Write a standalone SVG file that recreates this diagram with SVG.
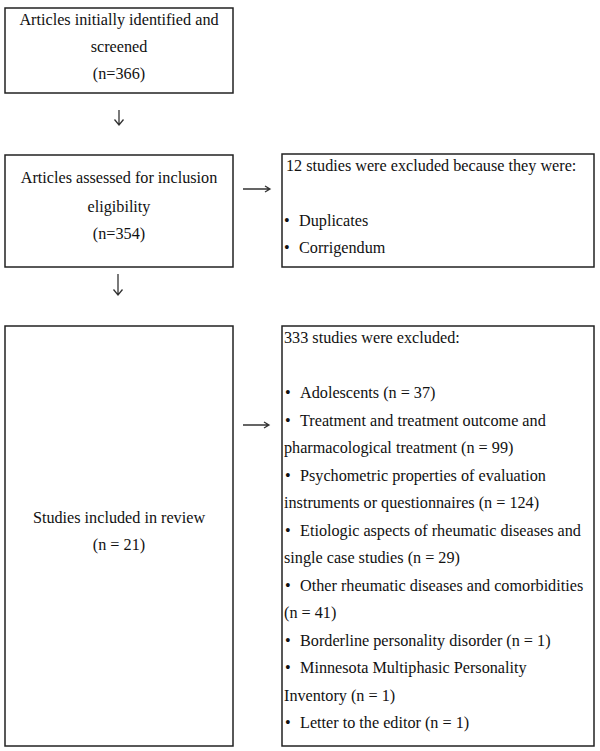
<svg xmlns="http://www.w3.org/2000/svg" width="600" height="751" viewBox="0 0 600 751">
<style>
.box{fill:#fff;stroke:#222;stroke-width:1.5}
.t{font-family:"Liberation Serif","Times New Roman",serif;font-size:16.2px;fill:#111}
.c{text-anchor:middle}
.conn{fill:none;stroke:#333;stroke-width:1.3}
</style>
<rect width="600" height="751" fill="#fff"/>
<g id="n1">
<rect class="box" x="5" y="8" width="228" height="85"/>
<text class="t c" x="119" y="25">Articles initially identified and</text>
<text class="t c" x="119" y="52">screened</text>
<text class="t c" x="119" y="79">(n=366)</text>
</g>
<g id="n2">
<rect class="box" x="5" y="155" width="228" height="112"/>
<text class="t c" x="119" y="183">Articles assessed for inclusion</text>
<text class="t c" x="119" y="212">eligibility</text>
<text class="t c" x="119" y="239">(n=354)</text>
</g>
<g id="n3">
<rect class="box" x="282" y="154" width="312" height="113"/>
<text class="t" x="286" y="171">12 studies were excluded because they were:</text>
<text class="t" x="284" y="226">•<tspan x="299">Duplicates</tspan></text>
<text class="t" x="284" y="253">•<tspan x="299">Corrigendum</tspan></text>
</g>
<g id="n4">
<rect class="box" x="5" y="326" width="228" height="420"/>
<text class="t c" x="119" y="523">Studies included in review</text>
<text class="t c" x="119" y="550">(n = 21)</text>
</g>
<g id="n5">
<rect class="box" x="282" y="326" width="312" height="420"/>
<text class="t" x="284" y="343">333 studies were excluded:</text>
<text class="t" x="285" y="398">•<tspan x="300">Adolescents (n = 37)</tspan></text>
<text class="t" x="285" y="425.5">•<tspan x="300">Treatment and treatment outcome and</tspan></text>
<text class="t" x="284" y="453">pharmacological treatment (n = 99)</text>
<text class="t" x="285" y="480.5">•<tspan x="300">Psychometric properties of evaluation</tspan></text>
<text class="t" x="284" y="508">instruments or questionnaires (n = 124)</text>
<text class="t" x="285" y="535.5">•<tspan x="300">Etiologic aspects of rheumatic diseases and</tspan></text>
<text class="t" x="284" y="563">single case studies (n = 29)</text>
<text class="t" x="285" y="590.5">•<tspan x="300">Other rheumatic diseases and comorbidities</tspan></text>
<text class="t" x="284" y="618">(n = 41)</text>
<text class="t" x="285" y="645.5">•<tspan x="300">Borderline personality disorder (n = 1)</tspan></text>
<text class="t" x="285" y="673">•<tspan x="300">Minnesota Multiphasic Personality</tspan></text>
<text class="t" x="284" y="700.5">Inventory (n = 1)</text>
<text class="t" x="285" y="728">•<tspan x="300">Letter to the editor (n = 1)</tspan></text>
</g>
<g id="connectors">
<path class="conn" d="M119 110 V125 M114.5 119.5 L119 125 L123.5 119.5"/>
<path class="conn" d="M118 274 V295 M113.5 289.5 L118 295 L122.5 289.5"/>
<path class="conn" d="M243 189 H270 M265 186 L270 189 L265 192"/>
<path class="conn" d="M243 425 H269 M264 422 L269 425 L264 428"/>
</g>
</svg>
